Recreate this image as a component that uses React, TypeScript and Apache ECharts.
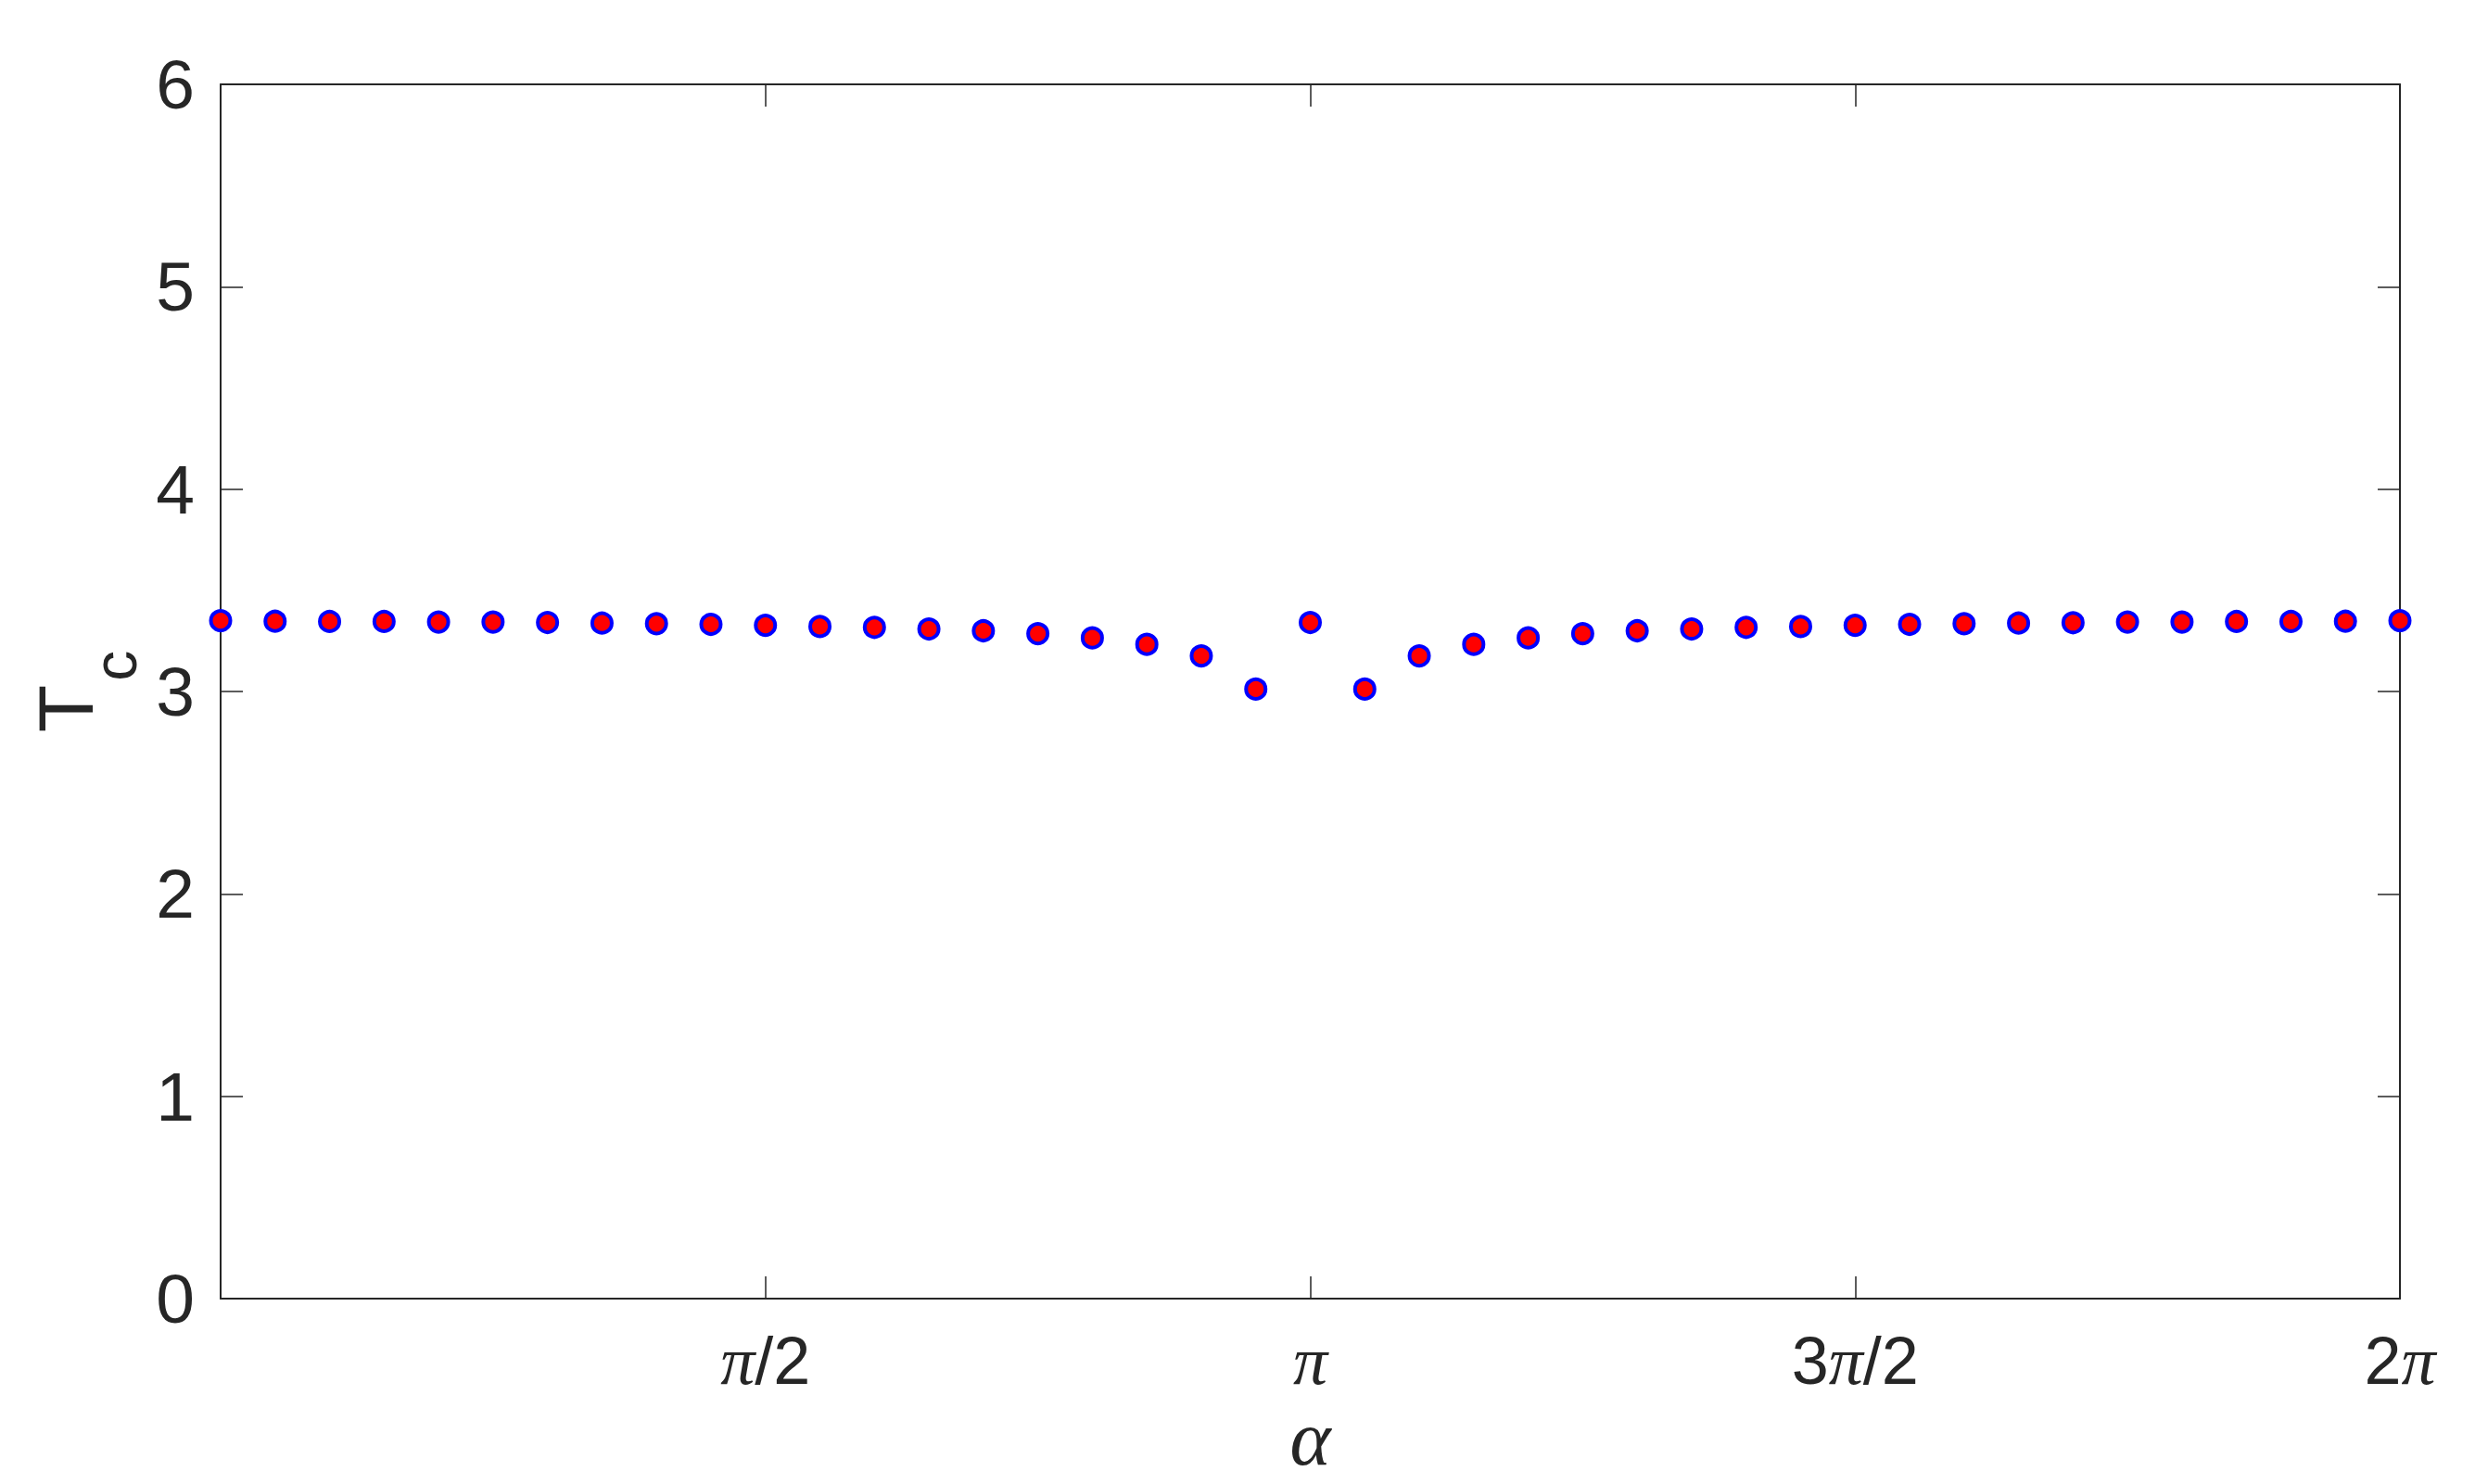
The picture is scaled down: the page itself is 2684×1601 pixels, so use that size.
import React, { useEffect, useRef } from "react";
import * as echarts from "echarts";

// alpha in units of pi
const alphaOverPi = [
  0, 0.05, 0.1, 0.15, 0.2, 0.25, 0.3, 0.35, 0.4, 0.45, 0.5, 0.55, 0.6, 0.65, 0.7, 0.75, 0.8, 0.85, 0.9, 0.95,
  1, 1.05, 1.1, 1.15, 1.2, 1.25, 1.3, 1.35, 1.4, 1.45, 1.5, 1.55, 1.6, 1.65, 1.7, 1.75, 1.8, 1.85, 1.9, 1.95, 2,
];
const tcValues = [
  3.35, 3.347, 3.346, 3.346, 3.343, 3.343, 3.341, 3.338, 3.335, 3.332, 3.327, 3.321, 3.317, 3.309, 3.3, 3.286,
  3.265, 3.233, 3.176, 3.012, 3.341, 3.012, 3.176, 3.233, 3.265, 3.286, 3.3, 3.309, 3.317, 3.321, 3.327, 3.332,
  3.335, 3.338, 3.34, 3.343, 3.343, 3.346, 3.346, 3.347, 3.35,
];
const xTickLabels = ["", "{p|\u03c0}{n|/2}", "{p|\u03c0}", "{n|3}{p|\u03c0}{n|/2}", "{n|2}{p|\u03c0}"];
const yTicks = [0, 1, 2, 3, 4, 5, 6];

const AXIS = "#262626";
const SANS = "'Liberation Sans', Arial, Helvetica, sans-serif";
const SERIF = "'Liberation Serif', 'Times New Roman', serif";

export default function App() {
  const ref = useRef<HTMLDivElement>(null);
  useEffect(() => {
    if (!ref.current) return;
    const chart = echarts.init(ref.current, undefined, { renderer: "svg" });
    const PI = Math.PI;
    const data = alphaOverPi.map((a, i) => [a * PI, tcValues[i]]);
    const commonX = {
      type: "value" as const,
      min: 0,
      max: 2 * PI,
      interval: PI / 2,
      splitLine: { show: false },
      axisLine: { show: true, onZero: false, lineStyle: { color: AXIS, width: 2 } },
      axisTick: { show: true, inside: true, length: 24, lineStyle: { color: AXIS, width: 1.5 } },
    };
    const commonY = {
      type: "value" as const,
      min: yTicks[0],
      max: yTicks[yTicks.length - 1],
      interval: 1,
      splitLine: { show: false },
      axisLine: { show: true, onZero: false, lineStyle: { color: AXIS, width: 2 } },
      axisTick: { show: true, inside: true, length: 24, lineStyle: { color: AXIS, width: 1.5 } },
    };
    chart.setOption({
      animation: false,
      backgroundColor: "#ffffff",
      grid: { left: 238, right: 95, top: 91, bottom: 200, containLabel: false },
      xAxis: [
        {
          ...commonX,
          position: "bottom",
          name: "\u03b1",
          nameLocation: "middle",
          nameGap: 92,
          nameTextStyle: { fontFamily: SERIF, fontStyle: "italic", fontSize: 84, color: AXIS },
          axisLabel: {
            margin: 30,
            formatter: (v: number) => xTickLabels[Math.round(v / (PI / 2))] ?? "",
            rich: {
              p: { fontFamily: SERIF, fontStyle: "italic", fontSize: 74, color: AXIS },
              n: { fontFamily: SANS, fontSize: 72, color: AXIS },
            },
          },
        },
        { ...commonX, position: "top", axisLabel: { show: false } },
      ],
      yAxis: [
        {
          ...commonY,
          position: "left",
          name: "{t|T}{s|c}",
          nameLocation: "middle",
          nameRotate: 90,
          nameGap: 100,
          nameTextStyle: {
            rich: {
              t: { fontFamily: SANS, fontSize: 84, color: AXIS, lineHeight: 84, verticalAlign: "top" },
              s: { fontFamily: SANS, fontSize: 66, color: AXIS, verticalAlign: "top", lineHeight: 66, padding: [62, 0, 0, 4] },
            },
          },
          axisLabel: { margin: 28, fontFamily: SANS, fontSize: 75, color: AXIS },
        },
        { ...commonY, position: "right", axisLabel: { show: false } },
      ],
      series: [
        {
          type: "scatter",
          xAxisIndex: 0,
          yAxisIndex: 0,
          data,
          clip: false,
          symbol: "circle",
          symbolSize: 21,
          itemStyle: { color: "#ff0000", borderColor: "#0000ff", borderWidth: 4, opacity: 1 },
        },
      ],
    });
    return () => chart.dispose();
  }, []);
  return (
    <div
      ref={ref}
      style={{ position: "fixed", left: 0, top: 0, width: 2684, height: 1601, background: "#ffffff" }}
    />
  );
}
